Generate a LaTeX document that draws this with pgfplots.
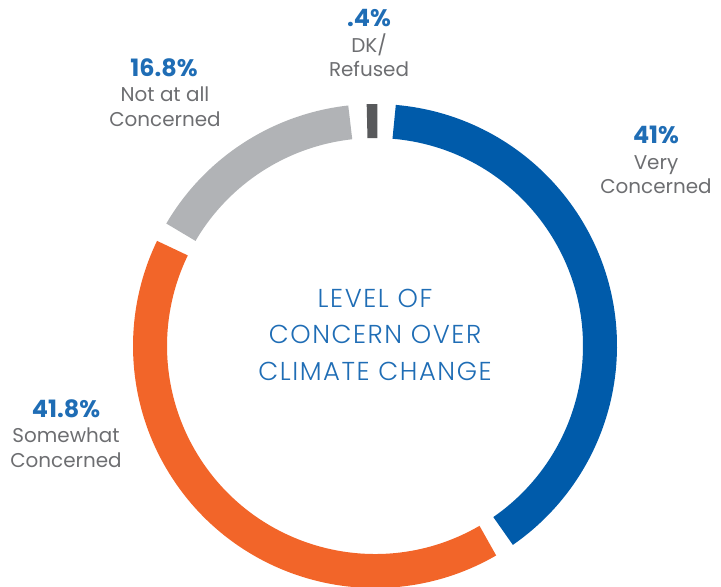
\documentclass[border=0pt]{standalone}
\usepackage{pgfplots}
\usepackage{pgfplotstable}
\pgfplotsset{compat=1.18}
\usepackage{fontspec}
\setmainfont{Poppins}
\newfontfamily\lightfont{Poppins Light}[LetterSpace=6]

\definecolor{vblue}{HTML}{005BAA}
\definecolor{sorange}{HTML}{F26529}
\definecolor{ngrey}{HTML}{B1B3B6}
\definecolor{dkgrey}{HTML}{58595B}
\definecolor{pctblue}{HTML}{1F6DB5}
\definecolor{txtgrey}{HTML}{6D6E71}

% share of respondents, in %
\pgfplotstableread{
value
41
41.8
16.8
0.4
}\concerndata

\begin{document}
\begin{tikzpicture}
\pgfplotstablegetelem{0}{value}\of\concerndata \let\va\pgfplotsretval
\pgfplotstablegetelem{1}{value}\of\concerndata \let\vb\pgfplotsretval
\pgfplotstablegetelem{2}{value}\of\concerndata \let\vc\pgfplotsretval
\pgfplotstablegetelem{3}{value}\of\concerndata \let\vd\pgfplotsretval
% cumulative angles, clockwise from the top
\pgfmathsetmacro\ca{3.6*\va}
\pgfmathsetmacro\cb{\ca+3.6*\vb}
\pgfmathsetmacro\cc{\cb+3.6*\vc}
\pgfmathsetmacro\hg{2.3}% half gap
\pgfmathsetmacro\dkmid{(\cc+360)/2}
\pgfmathsetmacro\dks{\dkmid-1.3}
\pgfmathsetmacro\dke{\dkmid+1.3}
\begin{axis}[
    scale only axis,
    width=721bp, height=587bp,
    xmin=0, xmax=721, ymin=0, ymax=587,
    hide axis,
    ]
    \addplot[draw=none] coordinates {(0,0) (721,587)};
    \def\cx{375}\def\cy{241}\def\R{225}
    % ring segments
    \draw[line width=34bp, vblue]
        (axis cs:{\cx+\R*cos(90-(\dke+4.3-360))},{\cy+\R*sin(90-(\dke+4.3-360))})
        arc[start angle={90-(\dke+4.3-360)}, end angle={90-(\ca-\hg)}, radius=225bp];
    \draw[line width=34bp, sorange]
        (axis cs:{\cx+\R*cos(90-(\ca+\hg))},{\cy+\R*sin(90-(\ca+\hg))})
        arc[start angle={90-(\ca+\hg)}, end angle={90-(\cb-\hg)}, radius=225bp];
    \draw[line width=34bp, ngrey]
        (axis cs:{\cx+\R*cos(90-(\cb+\hg))},{\cy+\R*sin(90-(\cb+\hg))})
        arc[start angle={90-(\cb+\hg)}, end angle={90-(\dks-4.3)}, radius=225bp];
    \draw[line width=34bp, dkgrey]
        (axis cs:{\cx+\R*cos(90-\dks)},{\cy+\R*sin(90-\dks)})
        arc[start angle={90-\dks}, end angle={90-\dke}, radius=225bp];
    % labels
    \begin{scope}[every node/.style={anchor=base, align=center}]
    \node[pctblue, font=\fontsize{24}{24}\selectfont\bfseries] at (axis cs:369,560) {.4\%};
    \node[txtgrey, font=\fontsize{20}{20}\selectfont] at (axis cs:369,534) {DK/};
    \node[txtgrey, font=\fontsize{20}{20}\selectfont] at (axis cs:369,510) {Refused};

    \node[pctblue, font=\fontsize{24}{24}\selectfont\bfseries] at (axis cs:164,510) {16.8\%};
    \node[txtgrey, font=\fontsize{20}{20}\selectfont] at (axis cs:165,485) {Not at all};
    \node[txtgrey, font=\fontsize{20}{20}\selectfont] at (axis cs:165,460) {Concerned};

    \node[pctblue, font=\fontsize{24}{24}\selectfont\bfseries] at (axis cs:656,443) {41\%};
    \node[txtgrey, font=\fontsize{20}{20}\selectfont] at (axis cs:656,417) {Very};
    \node[txtgrey, font=\fontsize{20}{20}\selectfont] at (axis cs:656,393) {Concerned};

    \node[pctblue, font=\fontsize{24}{24}\selectfont\bfseries] at (axis cs:66,169) {41.8\%};
    \node[txtgrey, font=\fontsize{20}{20}\selectfont] at (axis cs:66,144) {Somewhat};
    \node[txtgrey, font=\fontsize{20}{20}\selectfont] at (axis cs:66,119) {Concerned};

    \node[pctblue, font=\fontsize{26}{26}\lightfont] at (axis cs:375,279) {LEVEL OF};
    \node[pctblue, font=\fontsize{26}{26}\lightfont] at (axis cs:375,243) {CONCERN OVER};
    \node[pctblue, font=\fontsize{26}{26}\lightfont] at (axis cs:375,206) {CLIMATE CHANGE};
    \end{scope}
\end{axis}
\path (current axis.south west) rectangle (current axis.north east);
\end{tikzpicture}
\end{document}
